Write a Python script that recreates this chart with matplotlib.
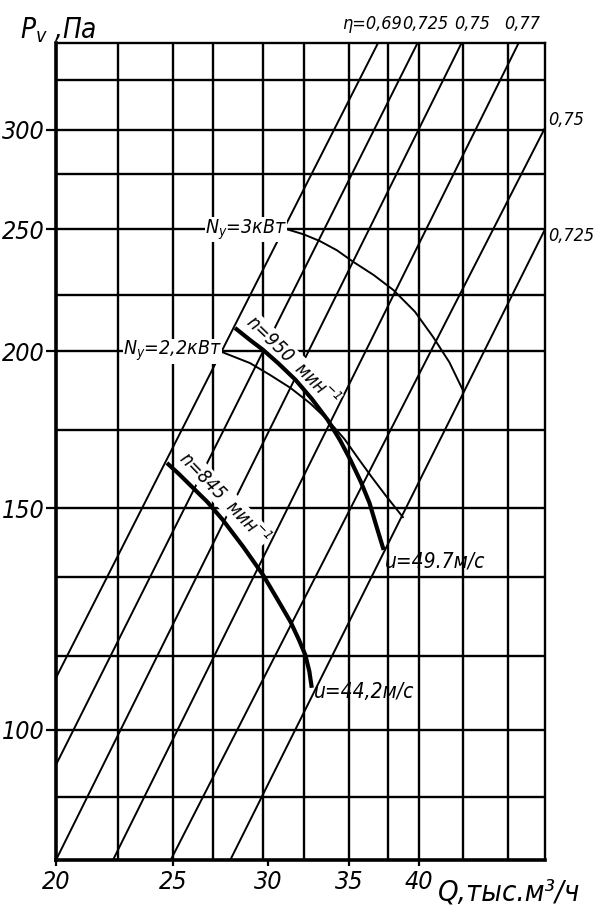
import numpy as np
import matplotlib.pyplot as plt
from matplotlib import font_manager as fm
from matplotlib.ticker import FixedLocator, FixedFormatter, NullLocator

# pick a narrow font if there is one (the drawing uses a GOST-like narrow italic)
fonts = fm.fontManager.ttflist
if any(f.name == 'Liberation Sans Narrow' for f in fonts):
    FAM, STRETCH = 'Liberation Sans Narrow', 'normal'
elif any(f.name == 'DejaVu Sans' and f.stretch == 'condensed' for f in fonts):
    FAM, STRETCH = 'DejaVu Sans', 'condensed'
else:
    FAM, STRETCH = 'DejaVu Sans', 'normal'
plt.rcParams['font.family'] = [FAM, 'DejaVu Sans']
plt.rcParams['font.stretch'] = STRETCH
plt.rcParams['font.style'] = 'italic'
plt.rcParams['mathtext.fontset'] = 'dejavusans'

# axes range, Q in thousand m3/h, Pv in Pa (log-log)
q_lim = (20, 50.9)
p_lim = (78.8, 351.6)
q_ticks = [20, 25, 30, 35, 40]
p_ticks = [100, 150, 200, 250, 300]

# grid lines as drawn on the chart
q_grid = [22.5, 25, 27.0, 29.7, 32.1, 35, 37.7, 40, 43.5, 47.4]
p_grid = [88.5, 100, 114.5, 132.3, 150, 173.2, 200, 221.7, 250, 276.7, 300, 328.7]

# efficiency rays: start and end points
ray_q0 = [20, 20, 20, 22.3, 24.9, 27.9]
ray_p0 = [110.0, 93.8, 78.8, 78.8, 78.8, 78.8]
ray_q1 = [37.0, 39.9, 43.4, 48.4, 50.9, 50.9]
ray_p1 = [351.6, 351.6, 351.6, 351.6, 301.0, 250.0]

# fan curves
n950_q = [28.15, 29.0, 29.7, 30.6, 31.6, 32.6, 33.6, 34.4, 35.1, 35.8, 36.4, 36.9, 37.4]
n950_p = [208.7, 204.0, 200.5, 195.5, 189.8, 183.3, 176.4, 170.0, 163.9, 157.5, 151.5, 145.0, 139.0]
n845_q = [24.72, 25.3, 25.83, 26.7, 27.5, 28.6, 29.7, 30.5, 31.3, 31.8, 32.2, 32.45, 32.6]
n845_p = [163.0, 159.7, 156.6, 151.8, 146.9, 139.8, 132.8, 127.2, 121.9, 118.0, 114.7, 111.3, 108.0]

# power lines
n3_q = [31.1, 32.1, 33.1, 34.2, 35.3, 36.7, 38.1, 39.7, 41.1, 42.4, 43.5]
n3_p = [250.0, 247.7, 244.7, 240.6, 235.5, 229.9, 223.7, 215.0, 205.3, 196.0, 186.3]
n22_q = [27.46, 28.97, 30.1, 31.3, 32.5, 33.6, 34.7, 35.7, 36.6, 37.5, 38.8]
n22_p = [199.7, 195.7, 191.5, 187.0, 181.8, 176.4, 170.3, 163.9, 158.6, 153.8, 147.6]

fig = plt.figure(figsize=(6.03, 9.14), dpi=100)
ax = fig.add_axes([56 / 603, 54 / 914, 489 / 603, 817 / 914])
ax.set_xscale('log')
ax.set_yscale('log')
ax.set_xlim(*q_lim)
ax.set_ylim(*p_lim)

for q in q_grid:
    ax.axvline(q, color='black', lw=1.7, zorder=1)
for p in p_grid:
    ax.axhline(p, color='black', lw=1.7, zorder=1)

for q0, p0, q1, p1 in zip(ray_q0, ray_p0, ray_q1, ray_p1):
    ax.plot([q0, q1], [p0, p1], color='black', lw=1.4, zorder=2)

ax.plot(n3_q, n3_p, color='black', lw=1.4, zorder=2)
ax.plot(n22_q, n22_p, color='black', lw=1.4, zorder=2)
ax.plot(n950_q, n950_p, color='black', lw=3.0, zorder=6, solid_capstyle='butt')
ax.plot(n845_q, n845_p, color='black', lw=3.0, zorder=6, solid_capstyle='butt')

for side in ['left', 'bottom']:
    ax.spines[side].set_linewidth(2.6)
for side in ['top', 'right']:
    ax.spines[side].set_linewidth(1.7)

ax.xaxis.set_major_locator(FixedLocator(q_ticks))
ax.xaxis.set_major_formatter(FixedFormatter([str(v) for v in q_ticks]))
ax.yaxis.set_major_locator(FixedLocator(p_ticks))
ax.yaxis.set_major_formatter(FixedFormatter([str(v) for v in p_ticks]))
ax.xaxis.set_minor_locator(NullLocator())
ax.yaxis.set_minor_locator(NullLocator())
ax.tick_params(axis='y', length=7, width=1.6, pad=1, labelsize=18)
ax.tick_params(axis='x', length=4, width=1.6, pad=3, labelsize=18)

box = dict(facecolor='white', edgecolor='none', pad=0.3)
ax.text(31.1, 250, r'$N_у$=3кВт', ha='right', va='center', fontsize=14,
        bbox=box, zorder=5)
ax.text(27.46, 200, r'$N_у$=2,2кВт', ha='right', va='center', fontsize=14,
        bbox=box, zorder=5)
ax.annotate(r'n=950  мин$^{-1}$', xy=(28.3, 207.5), xytext=(3, 3),
            textcoords='offset points', rotation=-44, rotation_mode='anchor',
            ha='left', va='bottom', fontsize=13.5, bbox=box, zorder=5)
ax.annotate(r'n=845  мин$^{-1}$', xy=(24.9, 162), xytext=(3, 3),
            textcoords='offset points', rotation=-46, rotation_mode='anchor',
            ha='left', va='bottom', fontsize=13.5, bbox=box, zorder=5)
ax.text(37.5, 136, 'u=49.7м/с', ha='left', va='center', fontsize=15, zorder=5)
ax.text(32.74, 107.2, 'u=44,2м/с', ha='left', va='center', fontsize=15, zorder=5)

# efficiency labels above the frame and to the right of it
top_q = [36.6, 40.5, 44.3, 48.7]
top_txt = ['η=0,69', '0,725', '0,75', '0,77']
for q, t in zip(top_q, top_txt):
    ax.text(q, 1.012, t, transform=ax.get_xaxis_transform(), ha='center',
            va='bottom', fontsize=13, clip_on=False)
right_p = [305.4, 247.0]
right_txt = ['0,75', '0,725']
for p, t in zip(right_p, right_txt):
    ax.text(1.006, p, t, transform=ax.get_yaxis_transform(), ha='left',
            va='center', fontsize=13, clip_on=False)

fig.text(20 / 603, 1 - 38 / 914, r'$P_v$ ,Па', fontsize=20, ha='left', va='baseline')
fig.text(438 / 603, 1 - 900 / 914, 'Q,тыс.м³/ч', fontsize=21, ha='left', va='baseline')

fig.savefig('out.png', dpi=100)
